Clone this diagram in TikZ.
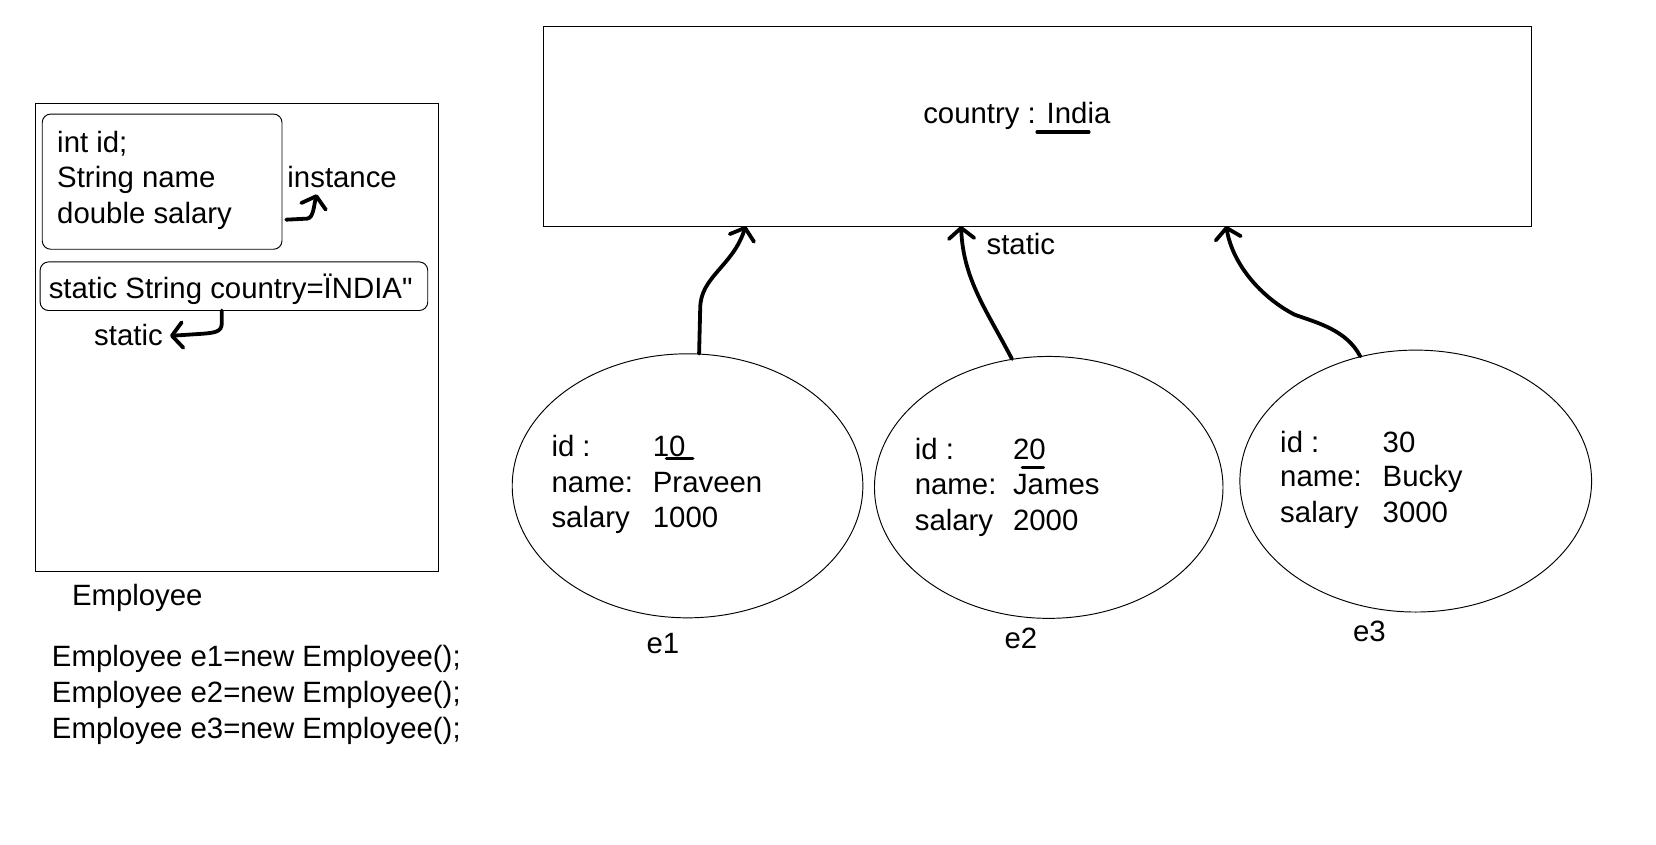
\documentclass[tikz,border=0pt]{standalone}
\usepackage{fontspec}
\setmainfont{Liberation Sans}
\usetikzlibrary{arrows.meta,shapes.geometric,positioning}
\newcommand{\plainquote}{{\addfontfeatures{Ligatures=TeXOff}"}}
\tikzset{
        % thin outlines of the class and of the objects
        frame/.style={draw, line width=0.9pt, inner sep=0pt},
        slot/.style={frame, rounded corners=8pt},
        obj/.style={draw, ellipse, line width=0.9pt, inner sep=0pt},
        % every text is left aligned on its base line
        lbl/.style={anchor=base west, inner sep=0pt},
        % the hand drawn pointers
        pen/.style={line width=3.6pt, line cap=round, line join=round,
            -{Straight Barb[length=10pt,width=24pt,round]}},
        stroke/.style={line width=3.2pt, line cap=round}
    }
\begin{document}
\begin{tikzpicture}[x=1pt,y=-1pt,font=\fontsize{27.8}{34}\selectfont]
\useasboundingbox (0,0) rectangle (1568,800);

%Shape: Class box
\node [frame, minimum width=381pt, minimum height=443pt] (cls) at (224.5,319.5) {};
%Shape: instance fields
\node [slot, minimum width=227pt, minimum height=128pt] (inst) at (153.5,172) {};
%Shape: static field
\node [slot, minimum width=367pt, minimum height=46pt] (sbox) at (221.5,271) {};

% Text Node
\node [lbl] (fid) at (54,144) {int id;};
% Text Node
\node [lbl] (fname) at (54,178) {String name};
% Text Node
\node [lbl] (fsal) at (54,212) {double salary};
% Text Node
\node [lbl] (instlbl) at (272,178) {instance};
% Text Node
\node [lbl] (fcountry) at (46,283) {static String country=ÏNDIA\plainquote};
% Text Node
\node [lbl] (statlbl) at (89,327) {static};
% Text Node
\node [lbl] (clsname) at (68,573) {Employee};
% Text Node
\node [lbl] (new1) at (49,631) {Employee e1=new Employee();};
\node [lbl] (new2) at (49,665) {Employee e2=new Employee();};
\node [lbl] (new3) at (49,699) {Employee e3=new Employee();};

%Curve Lines: instance pointer
\coordinate (ia) at (271,208);
\coordinate (ib) at (300,184);
\draw [pen] (ia) -- (291,207) .. controls (297,206) and (297,195) .. (ib);
%Curve Lines: static pointer
\coordinate (sa) at (210,294);
\coordinate (sb) at (161,318);
\draw [pen] (sa) -- (210,306) .. controls (210,314) and (204,315) .. (192,316) -- (sb);

%Shape: static area
\node [frame, minimum width=935pt, minimum height=189pt] (store) at (982.5,119.5) {};
% Text Node
\node [lbl] (country) at (874,117) {country : India};
\draw [stroke] (982,125) -- (1031,125);

%Shape: objects
\node [obj, minimum width=332pt, minimum height=250pt] (e1) at (651,460) {};
\node [obj, minimum width=330pt, minimum height=248pt] (e2) at (993,461.5) {};
\node [obj, minimum width=333pt, minimum height=248pt] (e3) at (1340.5,455.5) {};

% Text Node: e1
\node [lbl] (k1a) at (522,432) {id :};
\node [lbl] (k1b) at (522,466) {name:};
\node [lbl] (k1c) at (522,499) {salary};
\node [lbl] (v1a) at (618,432) {10};
\node [lbl] (v1b) at (618,466) {Praveen};
\node [lbl] (v1c) at (618,499) {1000};
\draw [stroke] (631,434) -- (656,434);
% Text Node: e2
\node [lbl] (k2a) at (866,435) {id :};
\node [lbl] (k2b) at (866,468) {name:};
\node [lbl] (k2c) at (866,502) {salary};
\node [lbl] (v2a) at (959,435) {20};
\node [lbl] (v2b) at (959,468) {James};
\node [lbl] (v2c) at (959,502) {2000};
\draw [stroke] (968,442.5) -- (988,442.5);
% Text Node: e3
\node [lbl] (k3a) at (1212,428) {id :};
\node [lbl] (k3b) at (1212,461) {name:};
\node [lbl] (k3c) at (1212,495) {salary};
\node [lbl] (v3a) at (1309,428) {30};
\node [lbl] (v3b) at (1309,461) {Bucky};
\node [lbl] (v3c) at (1309,495) {3000};

% Text Node
\node [lbl] (n1) at (612,619) {e1};
\node [lbl] (n2) at (951,614) {e2};
\node [lbl] (n3) at (1281,607) {e3};
\node [lbl] (statmid) at (934,241) {static};

%Curve Lines: objects point at the static area
\coordinate (t1) at (706,214);
\coordinate (t2) at (910,214);
\coordinate (t3) at (1161,214);
\draw [pen] (e1.85) -- (663,292) .. controls (663,262) and (694,252) .. (t1);
\draw [pen] (e2.106) .. controls (935,295) and (912,265) .. (t2);
\draw [pen] (e3.114) .. controls (1275,312) and (1245,305) .. (1226,298) .. controls (1200,285) and (1168,255) .. (t3);

\end{tikzpicture}
\end{document}
